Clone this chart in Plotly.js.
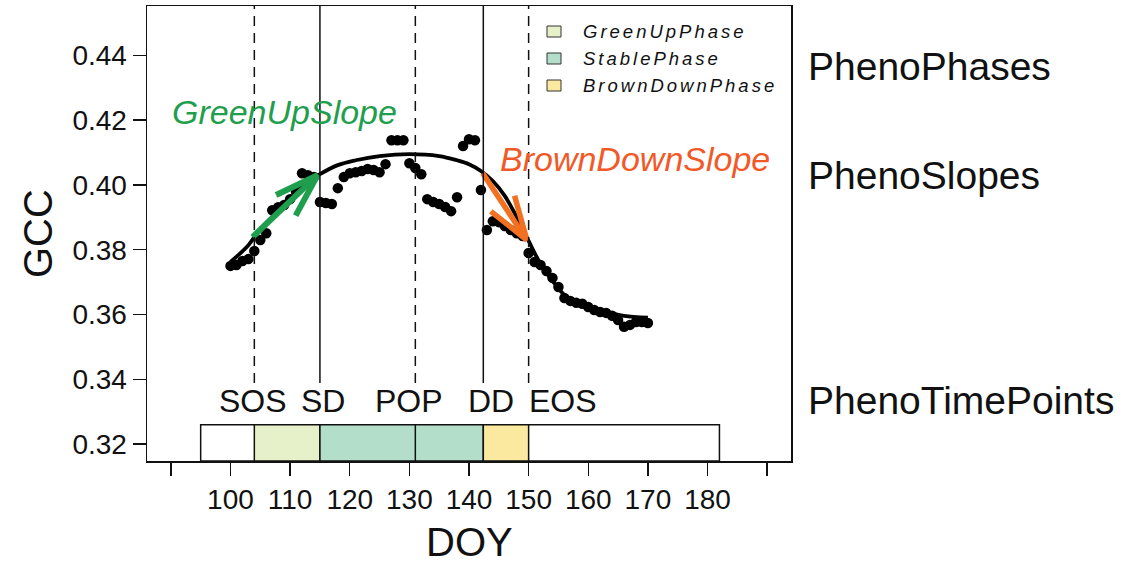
<!DOCTYPE html>
<html><head><meta charset="utf-8">
<script src="https://cdn.plot.ly/plotly-3.0.1.min.js"></script>
<style>html,body{margin:0;padding:0;background:#fff}#chart{width:1141px;height:566px}</style>
</head><body><div id="chart"></div>
<script>
// ---------------- data ----------------
const doy = [100,101,102,103,104,105,106,107,108,109,110,111,112,113,114,115,116,117,118,119,120,
  121,122,123,124,125,126,127,128,129,130,131,132,133,134,135,136,137,138,139,140,
  141,142,143,144,145,146,147,148,149,150,151,152,153,154,155,156,157,158,159,160,
  161,162,163,164,165,166,167,168,169,170];
const gcc = [0.3750,0.3753,0.3765,0.3771,0.3796,0.3830,0.3851,0.3922,0.3931,0.3938,0.3956,0.3978,0.4036,0.4030,0.4024,0.3947,0.3944,0.3941,0.3990,0.4024,0.4036,
  0.4039,0.4043,0.4049,0.4046,0.4039,0.4064,0.4138,0.4138,0.4138,0.4067,0.4052,0.4033,0.3956,0.3947,0.3941,0.3932,0.3919,0.3962,0.4120,0.4141,
  0.4138,0.3984,0.3861,0.3888,0.3885,0.3873,0.3861,0.3851,0.3842,0.3790,0.3762,0.3753,0.3734,0.3713,0.3685,0.3651,0.3642,0.3636,0.3633,0.3623,
  0.3614,0.3608,0.3605,0.3596,0.3583,0.3562,0.3568,0.3577,0.3577,0.3574];
const fitDOY = [100,103,105,108,110,112,115,118,121,125,130,135,138,140,142,144,146,148,150,152,154,156,158,160,163,166,170];
const fitGCC = [0.3762,0.3814,0.3864,0.3919,0.3956,0.3996,0.4033,0.4061,0.4076,0.4089,0.4095,0.4089,0.4076,0.4064,0.4043,0.4012,0.3966,0.3901,0.3827,0.3756,0.3704,0.3660,0.3636,0.3623,0.3608,0.3596,0.3590];

const timePointNames = ['SOS','SD','POP','DD','EOS'];
const timePointDOY = [104,115,131,142.4,150];
const phaseNames = ['GreenUpPhase','StablePhase','BrownDownPhase'];
const phaseStart = [104,115,142.4];
const phaseEnd = [115,142.4,150];
const seasonBounds = [95,182];
const greenSlopeX = [103.7,114.6], greenSlopeY = [0.3839,0.4030];
const brownSlopeX = [142.3,149.7], brownSlopeY = [0.4036,0.3830];
const slopeNames = ['GreenUpSlope','BrownDownSlope'];
const rowLabels = ['PhenoPhases','PhenoSlopes','PhenoTimePoints'];
const xTickVals = [90,100,110,120,130,140,150,160,170,180,190];
const xTickText = ['','100','110','120','130','140','150','160','170','180',''];
const yTickVals = [0.32,0.34,0.36,0.38,0.40,0.42,0.44];
const yTickText = ['0.32','0.34','0.36','0.38','0.40','0.42','0.44'];

// ---------------- layout constants ----------------
const W = 1141, H = 566;
const M = {l:147, r:350, t:6, b:105};
const plotW = W - M.l - M.r, plotH = H - M.t - M.b;
const xr = [86,194], yr = [0.3148,0.4552];
const FONT = 'Liberation Sans, Arial, Helvetica, sans-serif';
const px2p = px => (px - M.l) / plotW;
const py2p = py => (H - M.b - py) / plotH;

const phaseColors = ['#e6f0c9','#b3dfca','#fbe9a0'];
const dashedPoints = ['SOS','POP','EOS'];
const labelShift = [-1,3,-6,8,34];
const green = '#1f9e4e', orange = '#f37021', orangeText = '#f15a28';

function arrowHead(xs, ys, color, width) {
  const sx = plotW/(xr[1]-xr[0]), sy = plotH/(yr[1]-yr[0]);
  const dx = (xs[1]-xs[0])*sx, dy = (ys[1]-ys[0])*sy;
  const ang = Math.atan2(dy, dx);
  const L = 46, a = 18*Math.PI/180;
  const p = [a,-a].map(t => [xs[1] - L*Math.cos(ang - t)/sx, ys[1] - L*Math.sin(ang - t)/sy]);
  return {x:[p[0][0], xs[1], p[1][0]], y:[p[0][1], ys[1], p[1][1]], type:'scatter', mode:'lines',
    line:{color:color, width:width}, hoverinfo:'skip', showlegend:false};
}

const traces = [
  {x:doy, y:gcc, type:'scatter', mode:'markers', marker:{color:'#000', size:10.5}, showlegend:false, hoverinfo:'skip'},
  {x:fitDOY, y:fitGCC, type:'scatter', mode:'lines', line:{color:'#000', width:3.8, shape:'spline', smoothing:1}, showlegend:false, hoverinfo:'skip'},
  {x:greenSlopeX, y:greenSlopeY, type:'scatter', mode:'lines', line:{color:green, width:6}, showlegend:false, hoverinfo:'skip'},
  arrowHead(greenSlopeX, greenSlopeY, green, 6),
  {x:brownSlopeX, y:brownSlopeY, type:'scatter', mode:'lines', line:{color:orange, width:5.5}, showlegend:false, hoverinfo:'skip'},
  arrowHead(brownSlopeX, brownSlopeY, orange, 5.5)
];

const rectTop = 0.3260, lineBottom = 0.3389;
const shapes = [];
shapes.push({type:'rect', xref:'x', yref:'y', x0:seasonBounds[0], x1:seasonBounds[1], y0:yr[0], y1:rectTop,
  fillcolor:'#fff', line:{color:'#111', width:1.5}});
phaseNames.forEach((n,i) => shapes.push({type:'rect', xref:'x', yref:'y', x0:phaseStart[i], x1:phaseEnd[i], y0:yr[0], y1:rectTop,
  fillcolor:phaseColors[i], line:{color:'#111', width:1.5}}));
timePointNames.forEach((n,i) => {
  shapes.push({type:'line', xref:'x', yref:'y', x0:timePointDOY[i], x1:timePointDOY[i], y0:lineBottom, y1:yr[1],
    line:{color:'#111', width:1.5, dash: dashedPoints.includes(n) ? '10px,7px' : 'solid'}});
  if (n === 'POP') shapes.push({type:'line', xref:'x', yref:'y', x0:timePointDOY[i], x1:timePointDOY[i], y0:yr[0], y1:rectTop,
    line:{color:'#111', width:1.5}});
});
const legRowsPx = [31.5, 58.5, 85.5];
phaseNames.forEach((n,i) => shapes.push({type:'rect', xref:'paper', yref:'paper',
  x0:px2p(547), x1:px2p(561), y0:py2p(legRowsPx[i]+5.5), y1:py2p(legRowsPx[i]-5.5),
  fillcolor:phaseColors[i], line:{color:'#333', width:1}}));

const annotations = [];
timePointNames.forEach((n,i) => annotations.push({xref:'x', yref:'y', x:timePointDOY[i], y:0.3333, text:n, showarrow:false,
  xshift:labelShift[i], xanchor:'center', yanchor:'middle', font:{family:FONT, size:32, color:'#111'}}));
phaseNames.forEach((n,i) => annotations.push({xref:'paper', yref:'paper', x:px2p(581), y:py2p(legRowsPx[i]), text:n, showarrow:false,
  xanchor:'left', align:'left', yanchor:'middle', font:{family:FONT, size:18.5, color:'#111', style:'italic'}}));
annotations.push({xref:'x', yref:'y', x:89.85, y:0.4225, text:slopeNames[0], showarrow:false, xanchor:'left', yanchor:'middle',
  font:{family:FONT, size:34, color:green, style:'italic'}});
annotations.push({xref:'x', yref:'y', x:144.86, y:0.4080, text:slopeNames[1], showarrow:false, xanchor:'left', yanchor:'middle',
  font:{family:FONT, size:34, color:orangeText, style:'italic'}});
const rowLabelPy = [67, 175, 400];
rowLabels.forEach((n,i) => annotations.push({xref:'paper', yref:'paper', x:px2p(806), y:py2p(rowLabelPy[i]), text:n, showarrow:false,
  xanchor:'left', yanchor:'middle', font:{family:FONT, size:39, color:'#111'}}));
annotations.push({xref:'paper', yref:'paper', x:px2p(469), y:py2p(565), text:'DOY', showarrow:false, xanchor:'center', yanchor:'bottom',
  borderpad:0, font:{family:FONT, size:40, color:'#111'}});
annotations.push({xref:'paper', yref:'paper', x:px2p(38), y:py2p(234), text:'GCC', showarrow:false, textangle:-90, xanchor:'center', yanchor:'middle',
  font:{family:FONT, size:40, color:'#111'}});

const axisCommon = {showgrid:false, zeroline:false, showline:true, linecolor:'#111', linewidth:1.5, mirror:true,
  ticks:'outside', ticklen:13, tickwidth:1.5, tickcolor:'#111', tickfont:{family:FONT, size:28, color:'#111'}};
const layout = {
  width:W, height:H, margin:M, paper_bgcolor:'#fff', plot_bgcolor:'#fff', showlegend:false, hovermode:false,
  font:{family:FONT},
  xaxis:Object.assign({}, axisCommon, {range:xr, tickmode:'array', tickvals:xTickVals, ticktext:xTickText, ticklabelstandoff:0}),
  yaxis:Object.assign({}, axisCommon, {range:yr, tickmode:'array', tickvals:yTickVals, ticktext:yTickText}),
  shapes:shapes, annotations:annotations
};
Plotly.newPlot('chart', traces, layout, {displayModeBar:false, staticPlot:true}).then(() => {
  document.querySelectorAll('.annotation-text').forEach(t => {
    if (phaseNames.includes(t.textContent)) t.style.letterSpacing = '3px';
  });
});
</script>
</body></html>
